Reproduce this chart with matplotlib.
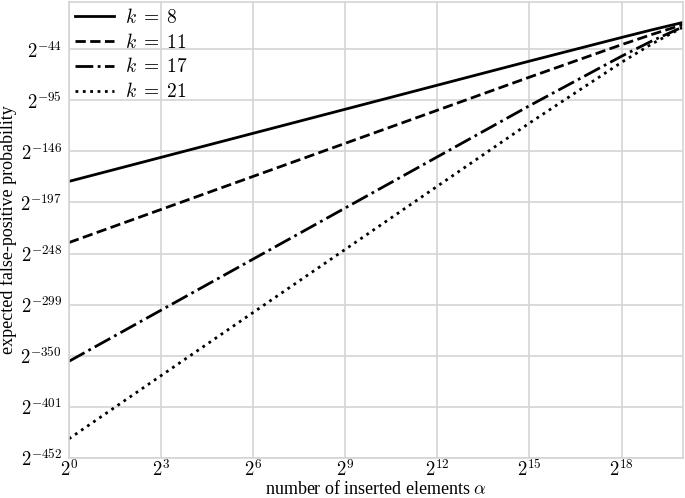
import numpy as np
import matplotlib
matplotlib.use("Agg")
import matplotlib.pyplot as plt

# log2 of alpha where the curves were read
x_exp = [0, 5, 10, 15, 18, 19, 20]

# log2 of expected false-positive probability
k_values = [8, 11, 17, 21]
y_exp = {
    8: [-176, -136, -96, -56, -32.4, -24.7, -17.4],
    11: [-237, -182, -127, -72, -39.6, -29.3, -19.6],
    17: [-355.5, -270.5, -185.5, -100.5, -51.1, -35.7, -21.8],
    21: [-432.8, -327.8, -222.8, -117.8, -57.2, -38.6, -22.2],
}
styles = {8: "-", 11: "--", 17: "-.", 21: ":"}

x_ticks = [0, 3, 6, 9, 12, 15, 18]
y_ticks = [-452, -401, -350, -299, -248, -197, -146, -95, -44]

plt.rcParams["font.family"] = "Liberation Serif"
plt.rcParams["mathtext.fontset"] = "cm"

fig = plt.figure(figsize=(6.85, 4.98), dpi=100)
ax = fig.add_axes([0.1007, 0.0803, 0.8963, 0.9157])

xs = 2.0 ** np.array(x_exp)
for k in k_values:
    ax.plot(xs, 2.0 ** np.array(y_exp[k]), color="black", lw=2,
            linestyle=styles[k], label=r"$k\;=\;%d$" % k)

ax.set_xscale("log", base=2)
ax.set_yscale("log", base=2)
ax.set_xlim(2.0 ** 0, 2.0 ** 20)
ax.set_ylim(2.0 ** -452, 2.0 ** 3)
ax.set_xticks([2.0 ** t for t in x_ticks])
ax.set_xticklabels([r"$2^{%d}$" % t for t in x_ticks])
ax.set_yticks([2.0 ** t for t in y_ticks])
ax.set_yticklabels([r"$2^{%d}$" % t for t in y_ticks])
ax.minorticks_off()

ax.grid(True, color="#d4d4d4", lw=1.2)
ax.set_axisbelow(True)
for s in ax.spines.values():
    s.set_color("#d4d4d4")
    s.set_linewidth(1.2)
ax.tick_params(length=0, labelsize=13.5)
ax.tick_params(axis="x", pad=1)
ax.tick_params(axis="y", pad=5)

ax.set_xlabel(r"number of inserted elements $\alpha$", fontsize=13, labelpad=0)
ax.set_ylabel("expected false-positive probability", fontsize=13)
ax.yaxis.set_label_coords(-0.085, 0.5)

ax.legend(loc="upper left", frameon=False, fontsize=14, handlelength=2.0,
          handletextpad=0.6, borderaxespad=0.1, borderpad=0.2,
          labelspacing=0.3)

fig.savefig("out.png", dpi=100)
